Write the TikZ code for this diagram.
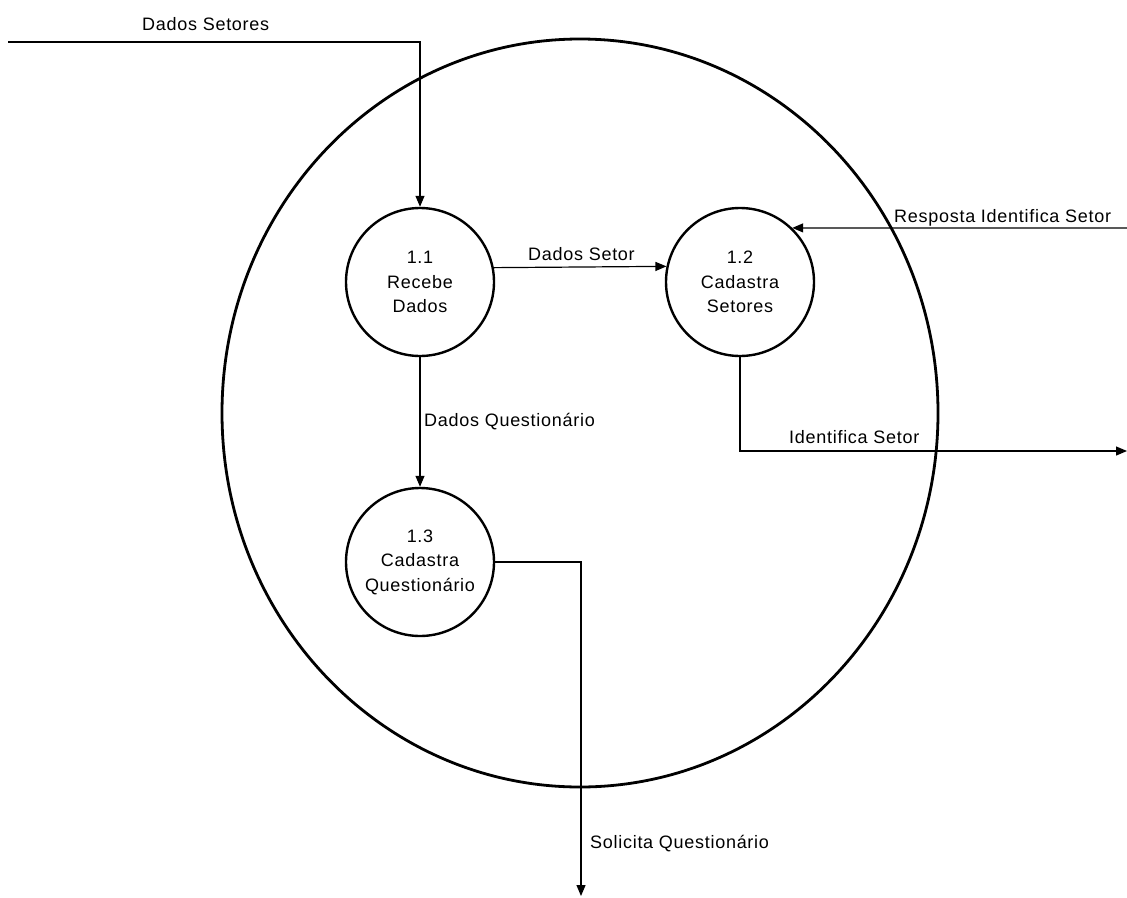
\documentclass[tikz,border=0pt]{standalone}
\usepackage{fontspec}
\setmainfont{Liberation Sans}[LetterSpace=4]
\usetikzlibrary{arrows.meta}
\begin{document}
\begin{tikzpicture}[x=1pt,y=-1pt,
  proc/.style={circle,draw,line width=2.4pt,minimum size=148pt,inner sep=0pt,
    align=center,font=\fontsize{18}{24.5}\selectfont},
  flow/.style={line width=1.2pt,-{Triangle[length=11pt,width=9pt]}},
  lbl/.style={anchor=base west,inner sep=0pt,font=\fontsize{18}{22}\selectfont}]
\useasboundingbox (0,0) rectangle (1127,897);

% context boundary of process 1
\draw[line width=2.8pt] (580,413) ellipse [x radius=358pt, y radius=374pt];

% sub-processes
\node[proc] (p1) at (420,282) {1.1\\Recebe\\Dados};
\node[proc] (p2) at (740,282) {1.2\\Cadastra\\Setores};
\node[proc] (p3) at (420,562) {1.3\\Cadastra\\Questionário};

% external ends of the flows
\coordinate (inSet) at (8,42);
\coordinate (inResp) at (1127,228);
\coordinate (outId) at (1127,451);
\coordinate (outSol) at (581,896);

% data flows
\draw[flow] (inSet) -| (p1.north);
\draw[flow] (p1.11.6) -- (p2.168.4);
\draw[flow] (inResp) -- (p2.46.4);
\draw[flow] (p2.south) |- (outId);
\draw[flow] (p1.south) -- (p3.north);
\draw[flow] (p3.east) -| (outSol);

% flow labels
\node[lbl] (lSetores) at (142,30) {Dados Setores};
\node[lbl] (lSetor) at (528,260) {Dados Setor};
\node[lbl] (lResp) at (894,222) {Resposta Identifica Setor};
\node[lbl] (lId) at (789,443) {Identifica Setor};
\node[lbl] (lQuest) at (424,426) {Dados Questionário};
\node[lbl] (lSol) at (590,848) {Solicita Questionário};
\end{tikzpicture}
\end{document}
